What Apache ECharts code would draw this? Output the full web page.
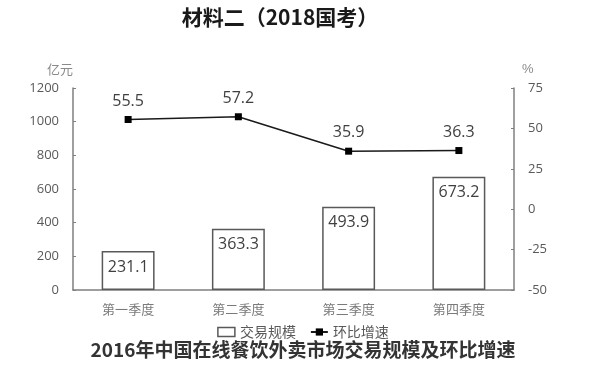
<!DOCTYPE html>
<html><head><meta charset="utf-8">
<script src="https://cdn.jsdelivr.net/npm/echarts@6/dist/echarts.min.js"></script>
<style>html,body{margin:0;padding:0;background:#fff}#c{width:606px;height:374px}</style>
</head><body><div id="c"></div>
<script>
const categories = ['第一季度','第二季度','第三季度','第四季度'];
const scaleValues = [231.1, 363.3, 493.9, 673.2];
const growthValues = [55.5, 57.2, 35.9, 36.3];
const leftTicks = [0, 1200, 200];
const rightTicks = [-50, 75, 25];

const chart = echarts.init(document.getElementById('c'));
const axisGray = '#7f7f7f';
const txtGray = '#595959';
const cjk = '"Noto Sans CJK SC", sans-serif';
const num = '"Open Sans", sans-serif';
chart.setOption({
  animation: false,
  backgroundColor: '#fff',
  title: [
    {text: '材料二（2018国考）', left: 275, top: 2, textAlign: 'center',
     textStyle: {fontSize: 21, fontWeight: 'bold', color: '#1a1a1a', fontFamily: cjk}},
    {text: '2016年中国在线餐饮外卖市场交易规模及环比增速', left: 298, top: 335, textAlign: 'center',
     textStyle: {fontSize: 19, fontWeight: 'bold', color: '#333', fontFamily: cjk}}
  ],
  legend: {
    top: 320, left: 'center',
    itemWidth: 17, itemHeight: 9, itemGap: 14,
    textStyle: {fontSize: 14, color: txtGray, fontFamily: cjk},
    data: [
      {name: '交易规模', icon: 'rect', itemStyle: {color: '#fff', borderColor: '#595959', borderWidth: 1.5}},
      {name: '环比增速'}
    ]
  },
  grid: {left: 73, right: 92, top: 88, bottom: 84},
  xAxis: {
    type: 'category', data: categories,
    axisLine: {lineStyle: {color: axisGray, width: 1.5}},
    axisTick: {show: false},
    axisLabel: {fontSize: 13, color: '#7a7a7a', margin: 13, fontFamily: cjk}
  },
  yAxis: [
    {type: 'value', min: leftTicks[0], max: leftTicks[1], interval: leftTicks[2],
     name: '亿元', nameLocation: 'end', nameGap: 12,
     nameTextStyle: {fontSize: 13, color: '#8a8a8a', align: 'right', fontFamily: cjk},
     axisLine: {show: true, lineStyle: {color: axisGray, width: 1.5}},
     axisTick: {show: true, inside: true, length: 3, lineStyle: {color: axisGray}},
     splitLine: {show: false},
     axisLabel: {fontSize: 13, color: txtGray, margin: 14, fontFamily: num,
                 formatter: v => String(v)}},
    {type: 'value', min: rightTicks[0], max: rightTicks[1], interval: rightTicks[2],
     name: '%', nameLocation: 'end', nameGap: 12,
     nameTextStyle: {fontSize: 13, color: '#8a8a8a', align: 'left', padding: [0, 0, 0, 8]},
     axisLine: {show: true, lineStyle: {color: axisGray, width: 1.5}},
     axisTick: {show: true, inside: true, length: 3, lineStyle: {color: axisGray}},
     splitLine: {show: false},
     axisLabel: {fontSize: 13, color: txtGray, margin: 14, fontFamily: num,
                 formatter: v => String(v)}}
  ],
  series: [
    {name: '交易规模', type: 'bar', data: scaleValues, barWidth: '48%',
     itemStyle: {color: '#fff', borderColor: '#595959', borderWidth: 1.5},
     label: {show: true, position: 'insideTop', distance: 8, fontSize: 16, color: '#404040', fontFamily: num}},
    {name: '环比增速', type: 'line', yAxisIndex: 1, data: growthValues,
     symbol: 'rect', symbolSize: 7,
     lineStyle: {color: '#1a1a1a', width: 1.5},
     itemStyle: {color: '#000'},
     label: {show: true, position: 'top', distance: 7, fontSize: 16, color: '#404040', fontFamily: num}}
  ]
});
</script></body></html>
